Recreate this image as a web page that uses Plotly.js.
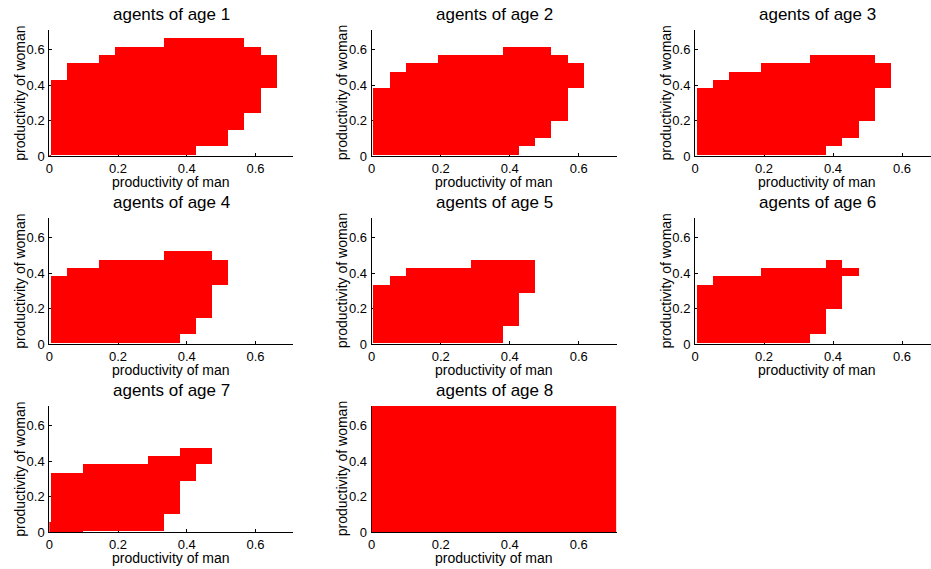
<!DOCTYPE html>
<html>
<head>
<meta charset="utf-8">
<script src="https://cdn.plot.ly/plotly-3.0.1.min.js"></script>
<style>
html,body{margin:0;padding:0;background:#fff;}
#chart{width:931px;height:569px;}
</style>
</head>
<body>
<div id="chart"></div>
<script>
// ---- data ----
const panelTitles = ['agents of age 1','agents of age 2','agents of age 3','agents of age 4',
                     'agents of age 5','agents of age 6','agents of age 7','agents of age 8'];
const xLabel = 'productivity of man';
const yLabel = 'productivity of woman';
const tickValues = [0, 0.2, 0.4, 0.6];
const tickLabels = ['0', '0.2', '0.4', '0.6'];

// productivity grid (cell centres, same for man and woman)
const cellCenters = [-0.0185, 0.0285, 0.0755, 0.1225, 0.1695, 0.2165, 0.2635, 0.3105,
                     0.3575, 0.4045, 0.4515, 0.4985, 0.5455, 0.5925, 0.6395, 0.6865];

// for every column of the grid: first filled row (bottom) and first empty row above (top)
const age1Bottom = [0,1,1,1,1,1,1,1,1,1,2,2,4,6,9,null];
const age1Top    = [1,10,12,12,13,14,14,14,15,15,15,15,15,14,13,null];
const age2Bottom = [null,1,1,1,1,1,1,1,1,1,2,3,5,9,null,null];
const age2Top    = [null,9,11,12,12,13,13,13,13,14,14,14,13,12,null,null];
const age3Bottom = [null,1,1,1,1,1,1,1,1,2,3,5,9,null,null,null];
const age3Top    = [null,9,10,11,11,12,12,12,13,13,13,13,12,null,null,null];
const age4Bottom = [null,1,1,1,1,1,1,1,1,2,4,8,null,null,null,null];
const age4Top    = [null,9,10,10,11,11,11,11,12,12,12,11,null,null,null,null];
const age5Bottom = [null,1,1,1,1,1,1,1,1,3,7,null,null,null,null,null];
const age5Top    = [null,8,9,10,10,10,10,11,11,11,11,null,null,null,null,null];
const age6Bottom = [null,1,1,1,1,1,1,1,2,5,9,null,null,null,null,null];
const age6Top    = [null,8,9,9,9,10,10,10,10,11,10,null,null,null,null,null];
const age7Bottom = [0,0,0,1,1,1,1,1,3,7,9,null,null,null,null,null];
const age7Top    = [2,8,8,9,9,9,9,10,10,11,11,null,null,null,null,null];
const age8Bottom = [0,0,0,0,0,0,0,0,0,0,0,0,0,0,0,0];
const age8Top    = [16,16,16,16,16,16,16,16,16,16,16,16,16,16,16,16];

const bottoms = [age1Bottom,age2Bottom,age3Bottom,age4Bottom,age5Bottom,age6Bottom,age7Bottom,age8Bottom];
const tops    = [age1Top,age2Top,age3Top,age4Top,age5Top,age6Top,age7Top,age8Top];

// ---- layout geometry (pixels) ----
const W = 931, H = 569;
const colPx = [[49.3, 293.3], [371.7, 616.7], [695, 931]];
const rowPx = [[30, 156], [218, 344], [406, 532]];
const xRanges = [[0, 0.71], [0, 0.71], [0, 0.684]];
const yRange = [0, 0.71];

const FONT = 'Liberation Sans, Arial, Helvetica, sans-serif';
const ink = '#000000';

function buildZ(bot, top) {
  const z = [];
  for (let r = 0; r < cellCenters.length; r++) {
    const row = [];
    for (let c = 0; c < cellCenters.length; c++) {
      row.push(bot[c] !== null && r >= bot[c] && r < top[c] ? 1 : null);
    }
    z.push(row);
  }
  return z;
}

const traces = [];
const layout = {
  width: W, height: H,
  margin: {l: 0, r: 0, t: 0, b: 0},
  paper_bgcolor: '#ffffff',
  plot_bgcolor: 'rgba(0,0,0,0)',
  showlegend: false,
  font: {family: FONT, color: ink},
  annotations: []
};

for (let i = 0; i < panelTitles.length; i++) {
  const col = i % 3, row = Math.floor(i / 3);
  const n = i + 1;
  const xa = 'xaxis' + (n === 1 ? '' : n), ya = 'yaxis' + (n === 1 ? '' : n);
  const xr = 'x' + (n === 1 ? '' : n), yr = 'y' + (n === 1 ? '' : n);
  const x0 = colPx[col][0], x1 = colPx[col][1];
  const yTop = rowPx[row][0], yBot = rowPx[row][1];

  traces.push({
    type: 'heatmap',
    x: cellCenters, y: cellCenters,
    z: buildZ(bottoms[i], tops[i]),
    zmin: 0, zmax: 1,
    colorscale: [[0, '#ff0000'], [1, '#ff0000']],
    showscale: false,
    hoverinfo: 'skip',
    xaxis: xr, yaxis: yr
  });

  const axCommon = {
    showgrid: false, zeroline: false,
    showline: true, linecolor: ink, linewidth: 1,
    ticks: 'inside', ticklen: 3, tickwidth: 1, tickcolor: ink,
    tickvals: tickValues, ticktext: tickLabels,
    tickfont: {family: FONT, size: 13, color: ink},
    layer: 'below traces',
    fixedrange: true
  };
  layout[xa] = Object.assign({}, axCommon, {
    domain: [x0 / W, Math.min(1, x1 / W)],
    range: xRanges[col],
    anchor: yr,
    ticklabelstandoff: 0
  });
  layout[ya] = Object.assign({}, axCommon, {
    domain: [1 - yBot / H, 1 - yTop / H],
    range: yRange,
    anchor: xr,
    ticklabelstandoff: 1
  });

  const cx = ((x0 + (col === 2 ? x0 + 244 : x1)) / 2) / W;
  // panel title
  layout.annotations.push({
    text: panelTitles[i], xref: 'paper', yref: 'paper',
    x: cx, y: 1 - (yTop - 15.5) / H, xanchor: 'center', yanchor: 'middle',
    showarrow: false, font: {family: FONT, size: 17, color: ink}
  });
  // x-axis title
  layout.annotations.push({
    text: xLabel, xref: 'paper', yref: 'paper',
    x: cx, y: 1 - (yBot + 26) / H, xanchor: 'center', yanchor: 'middle',
    showarrow: false, font: {family: FONT, size: 14, color: ink}
  });
  // y-axis title
  layout.annotations.push({
    text: yLabel, xref: 'paper', yref: 'paper', textangle: -90,
    x: (x0 - 29.5) / W, y: 1 - ((yTop + yBot) / 2) / H, xanchor: 'center', yanchor: 'middle',
    showarrow: false, font: {family: FONT, size: 14, color: ink}
  });
}

Plotly.newPlot('chart', traces, layout, {staticPlot: true, displayModeBar: false});
</script>
</body>
</html>
